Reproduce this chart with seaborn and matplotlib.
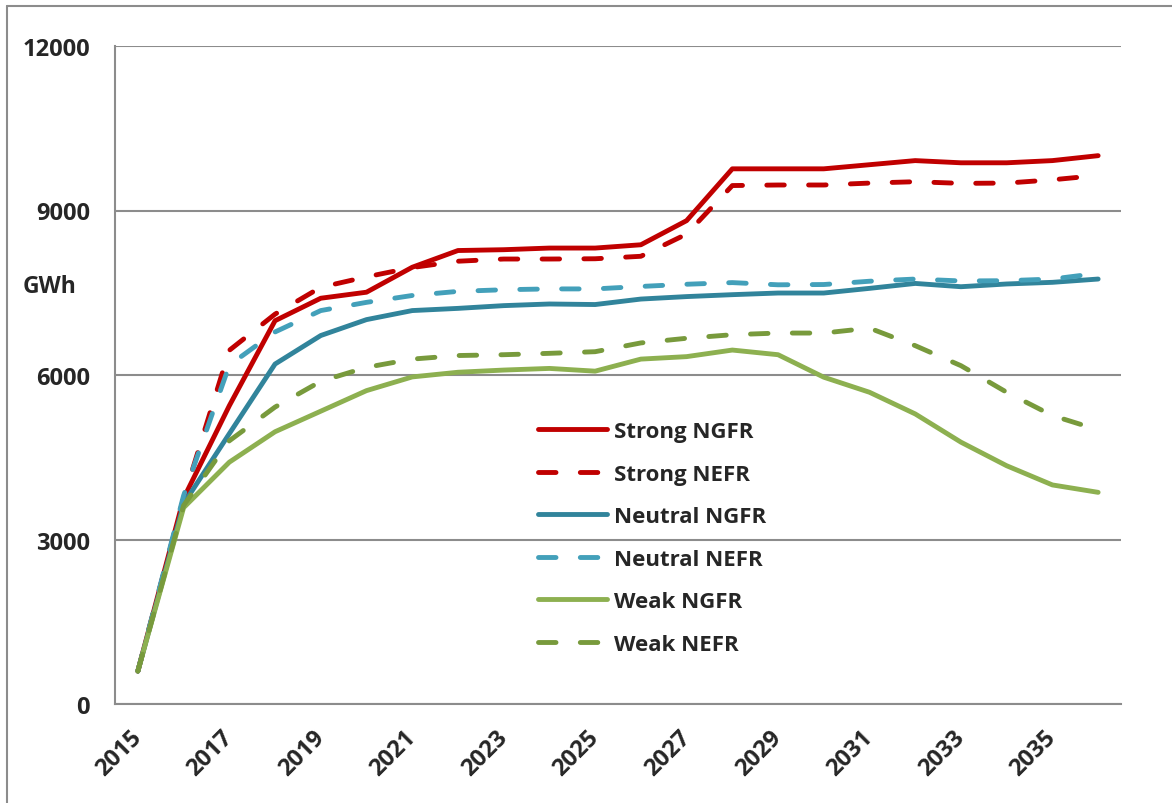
import pandas as pd
import seaborn as sns
import matplotlib.pyplot as plt
from matplotlib.lines import Line2D

years = list(range(2015, 2037))
series_names = ["Strong NGFR", "Strong NEFR", "Neutral NGFR", "Neutral NEFR", "Weak NGFR", "Weak NEFR"]

strong_ngfr = [600, 3750, 5440, 6990, 7400, 7510, 7965, 8270, 8285, 8315, 8315, 8375, 8815, 9760, 9760, 9760, 9835, 9910, 9870, 9870, 9910, 10000]
strong_nefr = [600, 3750, 6450, 7110, 7600, 7790, 7960, 8075, 8115, 8115, 8120, 8165, 8570, 9455, 9465, 9465, 9500, 9525, 9495, 9500, 9560, 9640]
neutral_ngfr = [600, 3650, 4930, 6200, 6720, 7010, 7175, 7215, 7265, 7295, 7285, 7385, 7430, 7465, 7495, 7495, 7580, 7670, 7610, 7660, 7690, 7750]
neutral_nefr = [600, 3800, 6180, 6785, 7175, 7325, 7450, 7525, 7555, 7570, 7570, 7615, 7655, 7685, 7645, 7650, 7710, 7750, 7715, 7720, 7750, 7855]
weak_ngfr = [600, 3580, 4410, 4965, 5340, 5715, 5965, 6050, 6090, 6120, 6070, 6290, 6335, 6455, 6370, 5960, 5685, 5290, 4775, 4345, 3995, 3860]
weak_nefr = [600, 3620, 4800, 5415, 5885, 6140, 6290, 6355, 6370, 6395, 6425, 6585, 6670, 6735, 6765, 6765, 6855, 6535, 6170, 5685, 5260, 5000]

colors = {
    "Strong NGFR": "#C00000",
    "Strong NEFR": "#C00000",
    "Neutral NGFR": "#31849B",
    "Neutral NEFR": "#43A0BA",
    "Weak NGFR": "#8DB050",
    "Weak NEFR": "#789A3C",
}
dash = (3.6, 5.0)
dashes = {n: ("" if n.endswith("NGFR") else dash) for n in series_names}

values = [strong_ngfr, strong_nefr, neutral_ngfr, neutral_nefr, weak_ngfr, weak_nefr]
rows = []
for name, vals in zip(series_names, values):
    for i, (yr, v) in enumerate(zip(years, vals)):
        rows.append({"idx": i, "year": yr, "series": name, "GWh": v})
df = pd.DataFrame(rows)

sns.set_style("white")
plt.rcParams["font.family"] = ["Open Sans", "DejaVu Sans"]
plt.rcParams["font.weight"] = "bold"

fig = plt.figure(figsize=(11.72, 8.04), dpi=100)
ax = fig.add_axes([115 / 1172, 1 - 705 / 804, (1121 - 115) / 1172, (705 - 47) / 804])

sns.lineplot(data=df, x="idx", y="GWh", hue="series", style="series",
             hue_order=series_names, style_order=series_names,
             palette=colors, dashes=dashes, linewidth=3.5, legend=False, ax=ax)
for line in ax.lines:
    line.set_solid_capstyle("round")
    line.set_dash_capstyle("round")

grid_c = "#8C8C8C"
txt_c = "#262626"
ax.set_xlim(-0.5, len(years) - 0.5)
ax.set_ylim(0, 12000)
ax.set_yticks(range(0, 12001, 3000))
ax.yaxis.grid(True, color=grid_c, linewidth=1.5)
ax.set_axisbelow(True)
ax.set_xticks(range(0, len(years), 2))
ax.set_xticklabels([str(y) for y in years[::2]], rotation=45, ha="right", va="center",
                   rotation_mode="anchor")
ax.set_xticks([i - 0.5 for i in range(len(years) + 1)], minor=True)
ax.tick_params(axis="x", which="major", length=0, pad=21, labelsize=17, labelcolor=txt_c)
ax.tick_params(axis="x", which="minor", length=6, width=1.2, color=grid_c, direction="out")
ax.tick_params(axis="y", length=6, width=1.5, color=grid_c, pad=12, labelsize=17, labelcolor=txt_c, direction="out")
for lab in ax.get_xticklabels() + ax.get_yticklabels():
    lab.set_fontweight("bold")
for s in ["top", "right"]:
    ax.spines[s].set_visible(False)
for s in ["left", "bottom"]:
    ax.spines[s].set_color(grid_c)
    ax.spines[s].set_linewidth(1.5)
ax.set_xlabel("")
ax.set_ylabel("")

fig.text(23 / 1172, 1 - 287 / 804, "GWh", ha="left", va="center",
         fontsize=16.5, fontweight="bold", color=txt_c)

leg = ax.legend(ax.lines[:6], series_names, loc="upper left",
                bbox_to_anchor=(538 / 1172, 1 - 422 / 804), bbox_transform=fig.transFigure,
                frameon=False, fontsize=16, handlelength=3.1, handletextpad=0.3,
                labelspacing=0.97, borderpad=0, borderaxespad=0)
for t in leg.get_texts():
    t.set_fontweight("bold")
    t.set_color(txt_c)

# outer chart border (left and top visible)
fig.add_artist(Line2D([7 / 1172, 7 / 1172], [0, 1 - 7 / 804], color=grid_c, linewidth=1.5, transform=fig.transFigure))
fig.add_artist(Line2D([7 / 1172, 1], [1 - 7 / 804, 1 - 7 / 804], color=grid_c, linewidth=1.5, transform=fig.transFigure))

fig.savefig("out.png", dpi=100)
